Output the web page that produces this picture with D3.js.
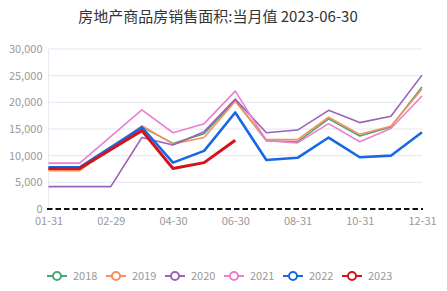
<!DOCTYPE html>
<html><head><meta charset="utf-8">
<script src="https://cdn.jsdelivr.net/npm/d3@7"></script>
<style>body{margin:0;background:#fff;}svg{display:block;font-family:"Microsoft YaHei","Noto Sans CJK SC",sans-serif;}</style>
</head><body>
<script>
const categories = ["01-31","02-28","02-29","03-31","04-30","05-31","06-30","07-31","08-31","09-30","10-31","11-30","12-31"];
const xTickLabels = ["01-31","02-29","04-30","06-30","08-31","10-31","12-31"];
const yTicks = [0,5000,10000,15000,20000,25000,30000];
const years = ["2018","2019","2020","2021","2022","2023"];
const s2018 = [7500,7500,null,15400,12300,14100,20400,12800,12600,16900,13700,15400,22900];
const s2019 = [7200,7200,null,15600,12200,13400,20200,13000,13000,17200,14000,15500,22500];
const s2020 = [4200,4200,4200,13400,12000,14500,20600,14300,14800,18500,16200,17400,25100];
const s2021 = [8600,8600,null,18600,14300,16000,22100,12800,12400,16000,12600,15100,21200];
const s2022 = [7800,7800,null,15300,8700,10900,18100,9200,9600,13400,9700,10000,14400];
const s2023 = [7600,7600,null,14700,7600,8700,12900,null,null,null,null,null,null];
const seriesValues = [s2018,s2019,s2020,s2021,s2022,s2023];
const colors = ["#4aa574","#f98d5b","#9b62b8","#ec7fd0","#1768e6","#d4141c"];
const widths = [1.6,1.6,1.6,1.6,2.6,3];

const W=447,H=291;
const svg=d3.select("body").append("svg").attr("width",W).attr("height",H);
const x=d3.scalePoint().domain(categories).range([48.5,422]);
const y=d3.scaleLinear().domain([0,30000]).range([209,49]);

svg.append("text").attr("x",218).attr("y",22).attr("text-anchor","middle")
  .attr("font-size",15).attr("fill","#333").text("房地产商品房销售面积:当月值 2023-06-30");

// grid
svg.append("g").selectAll("line").data(yTicks.filter(d=>d>0)).join("line")
  .attr("x1",48.5).attr("x2",422).attr("y1",d=>y(d)).attr("y2",d=>y(d))
  .attr("stroke","#e3e7f2").attr("stroke-width",1);
svg.append("line").attr("x1",48.5).attr("x2",48.5).attr("y1",49).attr("y2",209)
  .attr("stroke","#e8ebf3").attr("stroke-width",1);

// y axis labels
const yAxis=d3.axisLeft(y).tickValues(yTicks).tickSize(0).tickPadding(6).tickFormat(d3.format(","));
const gy=svg.append("g").attr("transform","translate(48.5,0)").call(yAxis);
gy.select(".domain").remove();
gy.selectAll("text").attr("fill","#9a9a9a").attr("font-size",11).attr("font-family","\"Microsoft YaHei\",\"Noto Sans CJK SC\",sans-serif");

// x axis labels
const xAxis=d3.axisBottom(x).tickValues(xTickLabels).tickSize(0).tickPadding(9);
const gx=svg.append("g").attr("transform","translate(0,208)").call(xAxis);
gx.select(".domain").remove();
gx.selectAll("text").attr("fill","#9a9a9a").attr("font-size",11).attr("font-family","\"Microsoft YaHei\",\"Noto Sans CJK SC\",sans-serif");

// zero dashed line
svg.append("line").attr("x1",47).attr("x2",423).attr("y1",y(0)).attr("y2",y(0))
  .attr("stroke","#111").attr("stroke-width",2).attr("stroke-dasharray","5.5,3");

// series
const line=d3.line().x(d=>x(d.c)).y(d=>y(d.v));
seriesValues.forEach((vals,i)=>{
  const pts=vals.map((v,j)=>({c:categories[j],v})).filter(d=>d.v!==null);
  svg.append("path").datum(pts).attr("d",line).attr("fill","none")
    .attr("stroke",colors[i]).attr("stroke-width",widths[i]).attr("stroke-linejoin","round");
});

// legend
const lg=svg.append("g");
years.forEach((yr,i)=>{
  const x0=47+i*59, cy=276;
  const g=lg.append("g");
  g.append("line").attr("x1",x0).attr("x2",x0+20).attr("y1",cy).attr("y2",cy).attr("stroke",colors[i]).attr("stroke-width",2);
  g.append("circle").attr("cx",x0+10).attr("cy",cy).attr("r",4).attr("fill","#fff").attr("stroke",colors[i]).attr("stroke-width",2);
  g.append("text").attr("x",x0+26).attr("y",cy+4).attr("font-size",11).attr("fill","#999").text(yr);
});
</script>
</body></html>
